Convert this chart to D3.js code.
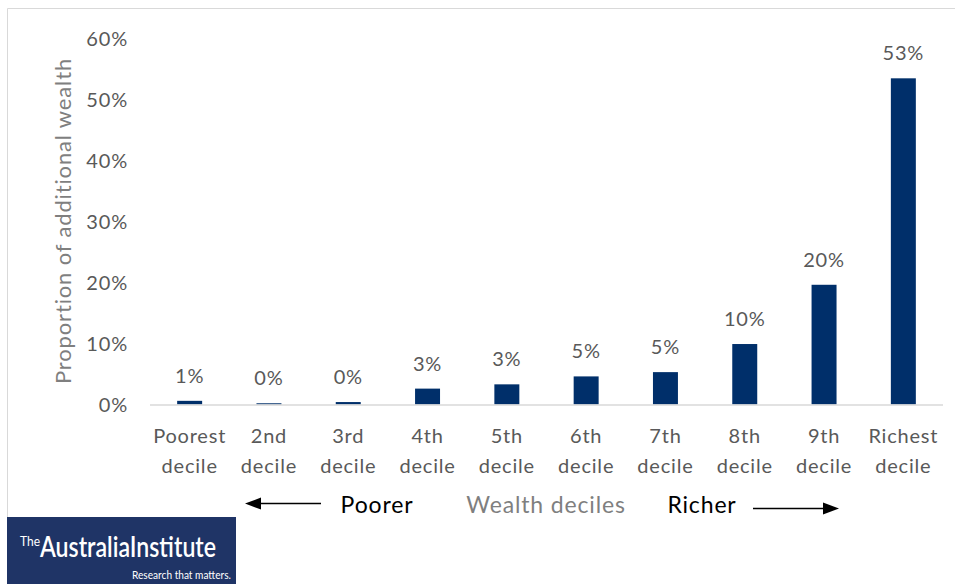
<!DOCTYPE html>
<html>
<head>
<meta charset="utf-8">
<script src="https://cdn.jsdelivr.net/npm/d3@7"></script>
<style>
  html, body { margin: 0; padding: 0; background: #fff; }
  svg { display: block; }
  text { font-family: Lato, "Open Sans", "Liberation Sans", sans-serif; }
</style>
</head>
<body>
<svg id="chart" width="955" height="584"></svg>
<script>
// Share of additional wealth going to each wealth decile
const deciles = ["Poorest decile", "2nd decile", "3rd decile", "4th decile", "5th decile",
                 "6th decile", "7th decile", "8th decile", "9th decile", "Richest decile"];
const shares = [0.006, 0.002, 0.004, 0.026, 0.033, 0.046, 0.053, 0.099, 0.196, 0.534];
const yTicks = [0, 0.1, 0.2, 0.3, 0.4, 0.5, 0.6];

const svg = d3.select("#chart");
const W = 955, H = 584;
const plot = { left: 150, right: 943, top: 38, bottom: 404.5 };
const labelSize = 20, labelSpacing = 0.8;

// chart frame
svg.append("path")
  .attr("d", `M7.5,${H} V8.5 H${W}`)
  .attr("fill", "none").attr("stroke", "#d9d9d9").attr("stroke-width", 1);

const x = d3.scaleBand().domain(deciles).range([plot.left, plot.right]).paddingInner(0.685).paddingOuter(0.3425);
const y = d3.scaleLinear().domain([0, 0.6]).range([plot.bottom, plot.top]);
const pct = d3.format(".0%");

// y axis tick labels (no line, no ticks)
const yAxis = d3.axisLeft(y).tickValues(yTicks).tickFormat(pct).tickSize(0).tickPadding(0);
const gy = svg.append("g").attr("transform", `translate(128,0)`).call(yAxis);
gy.select(".domain").remove();
gy.selectAll("text").attr("fill", "#595959").attr("font-size", labelSize)
  .attr("letter-spacing", labelSpacing).attr("dy", "0.35em");

// bars
svg.append("g").selectAll("rect").data(deciles).join("rect")
  .attr("x", d => x(d))
  .attr("width", x.bandwidth())
  .attr("y", (d, i) => y(shares[i]))
  .attr("height", (d, i) => plot.bottom - y(shares[i]))
  .attr("fill", "#002f6a");

// category baseline
svg.append("line")
  .attr("x1", plot.left).attr("x2", plot.right)
  .attr("y1", plot.bottom + 0.5).attr("y2", plot.bottom + 0.5)
  .attr("stroke", "#d9d9d9").attr("stroke-width", 1.5);

// value labels
svg.append("g").selectAll("text").data(deciles).join("text")
  .attr("x", d => x(d) + x.bandwidth() / 2)
  .attr("y", (d, i) => y(shares[i]) - 18)
  .attr("text-anchor", "middle")
  .attr("font-size", labelSize)
  .attr("letter-spacing", labelSpacing)
  .attr("fill", "#595959")
  .text((d, i) => pct(shares[i]));

// x axis category labels, two lines each
const xAxis = d3.axisBottom(x).tickSize(0).tickFormat("");
const gx = svg.append("g").attr("transform", `translate(0,${plot.bottom})`).call(xAxis);
gx.select(".domain").remove();
gx.selectAll(".tick").each(function(d) {
  const words = d.split(" ");
  const t = d3.select(this).append("text")
    .attr("text-anchor", "middle").attr("font-size", labelSize)
    .attr("letter-spacing", labelSpacing).attr("fill", "#595959");
  words.forEach((w, k) => t.append("tspan").attr("x", 0).attr("y", 38 + k * 30).text(w));
});

// y axis title
svg.append("text")
  .attr("transform", `translate(71,221) rotate(-90)`)
  .attr("text-anchor", "middle")
  .attr("font-size", 22)
  .attr("letter-spacing", 0.85)
  .attr("fill", "#7f7f7f")
  .text("Proportion of additional wealth");

// x axis title with direction arrows
const titleSize = 23, titleSpacing = 0.85;
svg.append("text").attr("x", 546).attr("y", 505).attr("dy", "0.35em")
  .attr("text-anchor", "middle").attr("font-size", titleSize).attr("letter-spacing", titleSpacing)
  .attr("fill", "#7f7f7f").text("Wealth deciles");
svg.append("text").attr("x", 377).attr("y", 505).attr("dy", "0.35em")
  .attr("text-anchor", "middle").attr("font-size", titleSize).attr("letter-spacing", titleSpacing)
  .attr("fill", "#000").text("Poorer");
svg.append("text").attr("x", 702).attr("y", 505).attr("dy", "0.35em")
  .attr("text-anchor", "middle").attr("font-size", titleSize).attr("letter-spacing", titleSpacing)
  .attr("fill", "#000").text("Richer");

// arrows drawn as shaft + filled head
function arrow(x1, x2, yy) {
  const dir = Math.sign(x2 - x1), headLen = 16, headHalf = 6;
  svg.append("line").attr("x1", x1).attr("x2", x2 - dir * headLen).attr("y1", yy).attr("y2", yy)
    .attr("stroke", "#000").attr("stroke-width", 1.6);
  svg.append("path")
    .attr("d", `M${x2},${yy} L${x2 - dir * headLen},${yy - headHalf} L${x2 - dir * headLen},${yy + headHalf} Z`)
    .attr("fill", "#000");
}
arrow(321, 245, 503.5);
arrow(753, 839, 508.5);

// publisher logo
const logo = svg.append("g");
const logoFont = "'Liberation Sans Narrow', 'Liberation Sans', sans-serif";
logo.append("rect").attr("x", 7).attr("y", 517).attr("width", 229).attr("height", 67).attr("fill", "#1f3466");
logo.append("text").attr("x", 20).attr("y", 546)
  .attr("font-family", logoFont)
  .attr("font-size", 13).attr("fill", "#fff").attr("textLength", 20).attr("lengthAdjust", "spacingAndGlyphs")
  .text("The");
logo.append("text").attr("x", 40).attr("y", 557)
  .attr("font-family", logoFont).attr("font-weight", 600)
  .attr("font-size", 29).attr("fill", "#fff").attr("textLength", 176).attr("lengthAdjust", "spacingAndGlyphs")
  .text("AustraliaInstitute");
logo.append("text").attr("x", 231).attr("y", 579).attr("text-anchor", "end")
  .attr("font-family", logoFont)
  .attr("font-size", 12).attr("fill", "#fff").attr("textLength", 99).attr("lengthAdjust", "spacingAndGlyphs")
  .text("Research that matters.");
</script>
</body>
</html>
